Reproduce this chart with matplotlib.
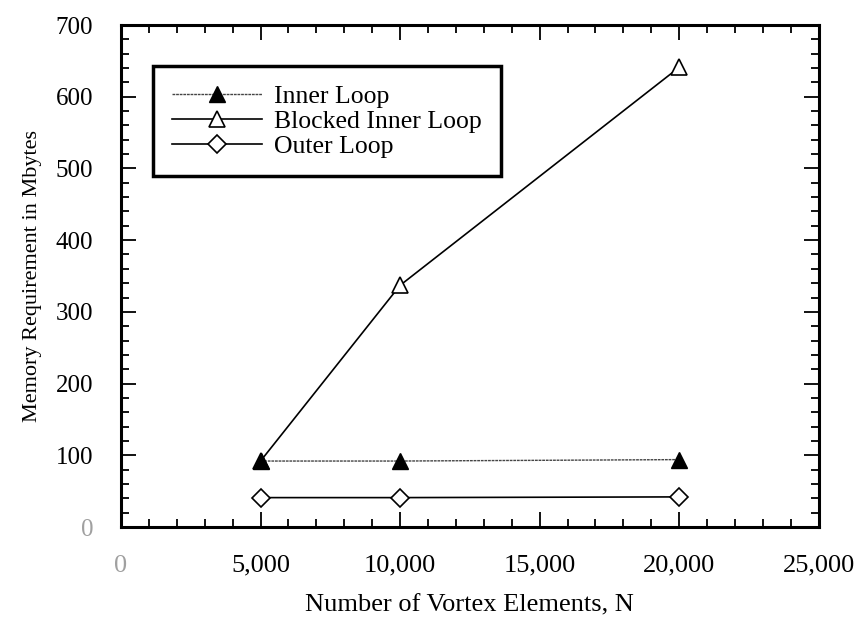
import matplotlib
matplotlib.use("Agg")
import matplotlib.pyplot as plt
from matplotlib.ticker import MultipleLocator, FuncFormatter

plt.rcParams['font.family'] = ['Liberation Serif', 'DejaVu Serif']

N = [5000, 10000, 20000]
inner_loop = [92, 92, 94]
blocked_inner_loop = [92, 337, 641]
outer_loop = [41, 41, 42]
series_labels = ["Inner Loop", "Blocked Inner Loop", "Outer Loop"]

fig = plt.figure(figsize=(8.6, 6.19), dpi=100)
ax = fig.add_axes([0.1407, 0.1486, 0.952 - 0.1407, 0.9596 - 0.1486])

ax.plot(N, inner_loop, color='#444444', lw=1.0, ls=(0, (2, 0.6)),
        marker='^', ms=12, mfc='black', mec='black', label=series_labels[0], zorder=5)
ax.plot(N, blocked_inner_loop, color='black', lw=1.2, ls='-',
        marker='^', ms=12, mfc='white', mec='black', mew=1.2, label=series_labels[1], zorder=3)
ax.plot(N, outer_loop, color='black', lw=1.2, ls='-',
        marker='D', ms=9, mfc='white', mec='black', mew=1.2, label=series_labels[2], zorder=4)

ax.set_xlim(0, 25000)
ax.set_ylim(0, 700)
ax.xaxis.set_major_locator(MultipleLocator(5000))
ax.xaxis.set_minor_locator(MultipleLocator(1000))
ax.yaxis.set_major_locator(MultipleLocator(100))
ax.yaxis.set_minor_locator(MultipleLocator(20))
ax.xaxis.set_major_formatter(FuncFormatter(lambda v, p: f"{int(v):,}"))
ax.yaxis.set_major_formatter(FuncFormatter(lambda v, p: f"{int(v)}"))

ax.tick_params(which='both', direction='in', top=True, right=True, width=1.3)
ax.tick_params(which='major', length=11)
ax.tick_params(which='minor', length=6)
ax.tick_params(axis='x', which='major', pad=20, labelsize=19)
ax.tick_params(axis='y', which='major', pad=20, labelsize=18)

for sp in ax.spines.values():
    sp.set_linewidth(2.2)

fig.canvas.draw()
for lbl in ax.get_xticklabels() + ax.get_yticklabels():
    if lbl.get_text() == '0':
        lbl.set_color('#a0a0a0')

ax.set_xlabel("Number of Vortex Elements, N", fontsize=19, labelpad=13)
ax.set_ylabel("Memory Requirement in Mbytes", fontsize=16, labelpad=10)

leg = ax.legend(loc='upper left', bbox_to_anchor=(0.046, 0.918), fontsize=18.5,
                frameon=True, fancybox=False, edgecolor='black', framealpha=1,
                handlelength=3.5, handletextpad=0.5, labelspacing=0.08,
                borderpad=0.72, borderaxespad=0.0)
leg.get_frame().set_linewidth(2.5)

fig.savefig("out.png", dpi=100)
